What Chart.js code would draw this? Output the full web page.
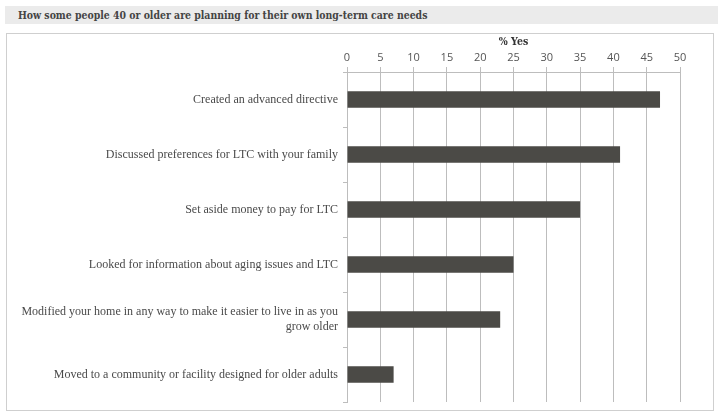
<!DOCTYPE html>
<html>
<head>
<meta charset="utf-8">
<script src="https://cdn.jsdelivr.net/npm/chart.js@4"></script>
<style>
  body { margin: 0; background: #fff; width: 718px; height: 415px; overflow: hidden; position: relative; }
  #title { position: absolute; left: 5px; top: 6px; width: 713px; height: 18px; background: #ebebeb;
           font: bold 10.4px "DejaVu Serif Condensed", "DejaVu Serif", serif; color: #444; line-height: 19px; padding-left: 13px; box-sizing: border-box; }
  #panel { position: absolute; left: 6px; top: 33px; width: 708px; height: 378px; border: 1px solid #cfcfcf; box-sizing: border-box; }
  #wrap { position: absolute; left: 0; top: 0; width: 718px; height: 415px; }
</style>
</head>
<body>
<div id="title">How some people 40 or older are planning for their own long-term care needs</div>
<div id="panel"></div>
<div id="wrap"><canvas id="chart" width="718" height="415"></canvas></div>
<script>
let categories = [
    'Created an advanced directive',
    'Discussed preferences for LTC with your family',
    'Set aside money to pay for LTC',
    'Looked for information about aging issues and LTC',
    ['Modified your home in any way to make it easier to live in as you', 'grow older'],
    'Moved to a community or facility designed for older adults'
];
let yesValues = [47, 41, 35, 25, 23, 7];
let axisTitle = '% Yes';

const ctx = document.getElementById('chart');
new Chart(ctx, {
    type: 'bar',
    data: {
        labels: categories,
        datasets: [{
            label: axisTitle,
            data: yesValues,
            backgroundColor: '#4b4a46',
            borderWidth: 0,
            categoryPercentage: 1,
            barPercentage: 0.3
        }]
    },
    options: {
        indexAxis: 'y',
        responsive: false,
        animation: false,
        devicePixelRatio: 1,
        layout: { padding: { left: 0, right: 38, top: 36, bottom: 13 } },
        plugins: { legend: { display: false }, tooltip: { enabled: false } },
        scales: {
            x: {
                position: 'top',
                min: 0,
                max: 50,
                ticks: { stepSize: 5, color: '#555', padding: 3, font: { family: 'Open Sans', size: 11 } },
                grid: { color: '#bdbdbd', tickLength: 5, lineWidth: 1 },
                border: { color: '#bdbdbd' },
                title: { display: true, text: axisTitle, color: '#333', padding: { top: 0, bottom: 0 },
                         font: { family: 'DejaVu Serif Condensed', size: 10.5, weight: 'bold' } },
                afterFit: function (axis) { axis.height = 36; }
            },
            y: {
                ticks: { color: '#4a4a4a', padding: 5, font: { family: 'Liberation Serif', size: 12 } },
                grid: { offset: true, drawOnChartArea: false, tickLength: 4, color: '#bdbdbd' },
                border: { color: '#bdbdbd' },
                afterFit: function (axis) { axis.width = 347; }
            }
        }
    }
});
</script>
</body>
</html>
